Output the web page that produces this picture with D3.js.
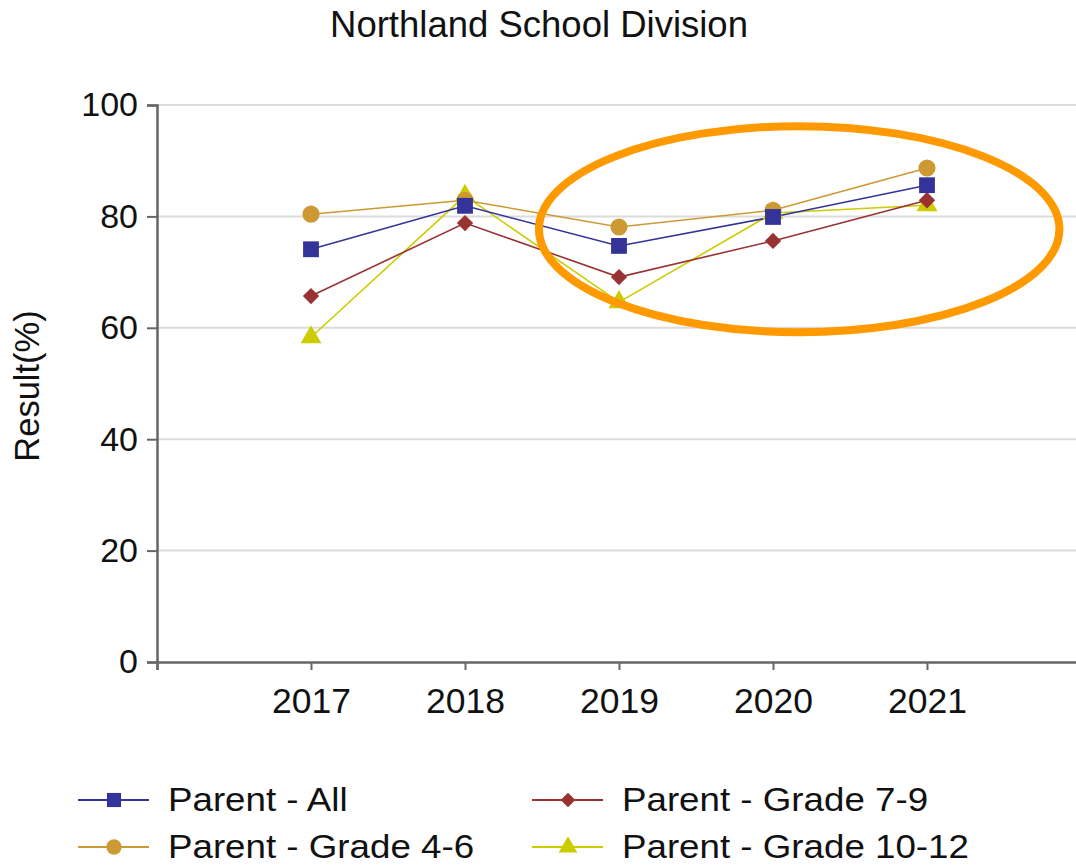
<!DOCTYPE html>
<html>
<head>
<meta charset="utf-8">
<script src="https://cdn.jsdelivr.net/npm/d3@7"></script>
<style>
  html, body { margin: 0; padding: 0; background: #fff; }
  svg { display: block; font-family: "Liberation Sans", Arial, sans-serif; }
</style>
</head>
<body>
<svg id="chart" width="1076" height="865"></svg>
<script>
// Chart data
const years = [2017, 2018, 2019, 2020, 2021];
const parentAll = [74.1, 81.9, 74.7, 79.9, 85.6];
const parentGrade46 = [80.4, 82.9, 78.1, 81.1, 88.7];
const parentGrade79 = [65.7, 78.8, 69.1, 75.6, 82.9];
const parentGrade1012 = [58.3, 83.7, 64.6, 80.6, 82.0];
const yTicks = [0, 20, 40, 60, 80, 100];

// Highlight ellipse around 2019-2021 (in data units)
const highlight = { cx: 2020.17, cy: 77.7, rx: 1.69, ry: 18.5 };

const series = [
  { name: 'Parent - All', values: parentAll, color: '#333399', symbol: d3.symbolSquare, size: 250 },
  { name: 'Parent - Grade 7-9', values: parentGrade79, color: '#993333', symbol: d3.symbolDiamond2, size: 170 },
  { name: 'Parent - Grade 4-6', values: parentGrade46, color: '#cc9933', symbol: d3.symbolCircle, size: 230 },
  { name: 'Parent - Grade 10-12', values: parentGrade1012, color: '#cccc00', symbol: d3.symbolTriangle, size: 190 }
];
// draw order: 10-12 at the back, All on top
const drawOrder = [3, 1, 2, 0];

const svg = d3.select('#chart');
const plotLeft = 157, plotRight = 1081, plotTop = 105, plotBottom = 662;

const x = d3.scaleLinear().domain([2016, 2022]).range([plotLeft, plotRight]);
const y = d3.scaleLinear().domain([0, 100]).range([plotBottom, plotTop]);

// Title
svg.append('text')
  .attr('x', 539).attr('y', 37)
  .attr('text-anchor', 'middle')
  .attr('font-size', 36.5)
  .attr('fill', '#111')
  .text('Northland School Division');

// Gridlines
svg.append('g')
  .selectAll('line')
  .data(yTicks.filter((d) => d > 0))
  .join('line')
  .attr('x1', plotLeft).attr('x2', 1076)
  .attr('y1', (d) => y(d)).attr('y2', (d) => y(d))
  .attr('stroke', '#dcdcdc').attr('stroke-width', 2);

// Y axis
const yAxis = svg.append('g')
  .attr('transform', `translate(${plotLeft},0)`)
  .call(d3.axisLeft(y).tickValues(yTicks).tickSize(10).tickPadding(9));
yAxis.selectAll('text').attr('font-size', 34).attr('fill', '#111').attr('font-family', '"Liberation Sans", Arial, sans-serif');

// X axis
const xAxis = svg.append('g')
  .attr('transform', `translate(0,${plotBottom})`)
  .call(d3.axisBottom(x).tickValues([2016, ...years]).tickSize(8).tickPadding(18)
    .tickFormat((d) => (d === 2016 ? '' : d3.format('d')(d))));
xAxis.selectAll('text').attr('font-size', 35.5).attr('fill', '#111').attr('font-family', '"Liberation Sans", Arial, sans-serif');

[yAxis, xAxis].forEach((a) => {
  a.select('.domain').attr('stroke', '#666').attr('stroke-width', 2.5);
  a.selectAll('.tick line').attr('stroke', '#666').attr('stroke-width', 2);
});

// Y axis label
svg.append('text')
  .attr('transform', 'translate(39,386) rotate(-90)')
  .attr('text-anchor', 'middle')
  .attr('font-size', 34.5)
  .attr('fill', '#111')
  .text('Result(%)');

// Lines and markers
const line = d3.line()
  .x((d, i) => x(years[i]))
  .y((d) => y(d));

drawOrder.forEach((k) => {
  const s = series[k];
  svg.append('path')
    .datum(s.values)
    .attr('d', line)
    .attr('fill', 'none')
    .attr('stroke', s.color)
    .attr('stroke-width', 1.6);
});

drawOrder.forEach((k) => {
  const s = series[k];
  svg.append('g')
    .selectAll('path')
    .data(s.values)
    .join('path')
    .attr('transform', (d, i) => `translate(${x(years[i])},${y(d)})`)
    .attr('d', d3.symbol().type(s.symbol).size(s.size))
    .attr('fill', s.color);
});

// Highlight ellipse
svg.append('ellipse')
  .attr('cx', x(highlight.cx))
  .attr('cy', y(highlight.cy))
  .attr('rx', x(highlight.cx + highlight.rx) - x(highlight.cx))
  .attr('ry', y(highlight.cy - highlight.ry) - y(highlight.cy))
  .attr('fill', 'none')
  .attr('stroke', '#ff9900')
  .attr('stroke-width', 8);

// Legend
const legendPos = [[78, 800], [532, 800], [78, 847], [532, 847]];
const legend = svg.append('g')
  .selectAll('g')
  .data(series)
  .join('g')
  .attr('transform', (d, i) => `translate(${legendPos[i][0]},${legendPos[i][1]})`);

legend.append('line')
  .attr('x1', 0).attr('x2', 71)
  .attr('stroke', (d) => d.color).attr('stroke-width', 2);
legend.append('path')
  .attr('transform', 'translate(36,0)')
  .attr('d', (d) => d3.symbol().type(d.symbol).size(d.size * 0.8)())
  .attr('fill', (d) => d.color);
legend.append('text')
  .attr('transform', 'translate(90,11) scale(1.08,1)')
  .attr('font-size', 34)
  .attr('fill', '#111')
  .text((d) => d.name);
</script>
</body>
</html>
